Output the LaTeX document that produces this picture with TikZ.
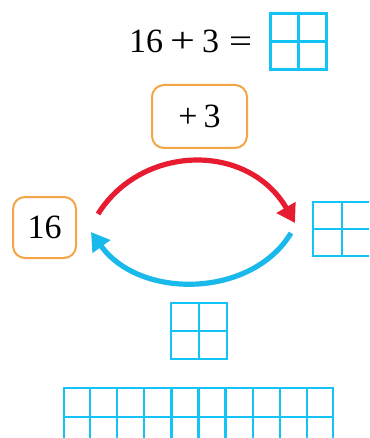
\documentclass[tikz,border=0pt]{standalone}
\usepackage{fontspec}
\setmainfont{Liberation Serif}
\usetikzlibrary{arrows.meta,calc}
\definecolor{gridc}{RGB}{20,195,245}
\definecolor{boxo}{RGB}{245,165,70}
\definecolor{arred}{RGB}{232,28,48}
\definecolor{arblue}{RGB}{25,185,235}
\tikzset{
  gridbox/.style={draw=gridc, line width=2.4pt, inner sep=0pt},
  gridline/.style={draw=gridc, line width=2.4pt},
  numbox/.style={draw=boxo, line width=2pt, rounded corners=12pt, inner sep=0pt, font=\fontsize{34}{34}\selectfont},
  arc/.style={line width=5.2pt, -{Triangle[length=18pt,width=21pt]}},
}
\begin{document}
\begin{tikzpicture}[x=1pt,y=-1pt]
\useasboundingbox (0,0) rectangle (369,438);
\clip (0,0) rectangle (369,438);
% equation
\node[anchor=base west, inner sep=0pt, font=\fontsize{34}{34}\selectfont] (eq) at (129,53) {16\hspace{7pt}\scalebox{1.3}[1.05]{+}\hspace{7pt}3\hspace{10pt}\scalebox{1.2}[1]{=}};
\node[gridbox, minimum width=56pt, minimum height=56pt] (ans) at (298.5,41.5) {};
\draw[gridline] (ans.north) -- (ans.south) (ans.west) -- (ans.east);
% boxes
\node[numbox, minimum width=95pt, minimum height=63pt] (plus) at (199.5,116.5) {+\hspace{6pt}3};
\node[numbox, minimum width=63pt, minimum height=61pt] (n16) at (44.5,227.5) {16};
% right grid
\node[gridbox, minimum width=58pt, minimum height=54pt] (rg) at (342,229) {};
\draw[gridline] (rg.north) -- (rg.south) (rg.west) -- (rg.east);
% arrows
\coordinate (rs) at (98,214);
\coordinate (re) at (295,223);
\coordinate (bs) at (291,233);
\coordinate (be) at (91,232);
\draw[arc, arred] (rs) .. controls (142,144) and (248,142) .. (re);
\draw[arc, arblue] (bs) .. controls (252,298) and (140,300) .. (be);
% small grid
\node[gridbox, minimum width=56pt, minimum height=56pt] (sg) at (199,331) {};
\draw[gridline] (sg.north) -- (sg.south) (sg.west) -- (sg.east);
% big grid
\node[gridbox, minimum width=269pt, minimum height=58pt] (bg) at (198.5,417) {};
\draw[gridline] (bg.west) -- (bg.east);
\foreach \i in {1,...,9} {
  \draw[gridline] ($(bg.north west)!\i/10!(bg.north east)$) -- ($(bg.south west)!\i/10!(bg.south east)$);
}
\end{tikzpicture}
\end{document}
